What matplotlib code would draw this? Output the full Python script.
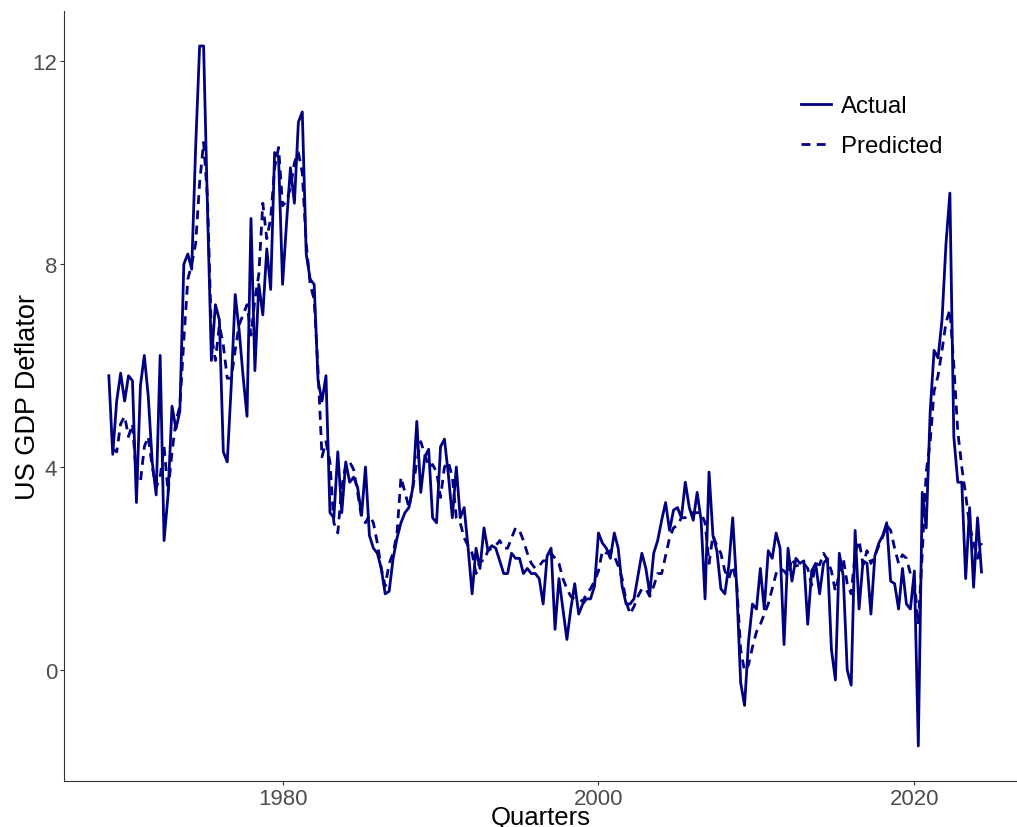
import numpy as np
import pandas as pd
import matplotlib
matplotlib.use('Agg')
import matplotlib.pyplot as plt
import matplotlib.dates as mdates

plt.rcParams['font.family'] = ['Liberation Sans', 'DejaVu Sans']

# quarterly GDP deflator, 1969Q1 .. 2024Q2
actual = [
    5.8, 4.25, 5.3, 5.85, 5.3, 5.8, 5.7, 3.3, 5.6, 6.2,
    5.4, 4.1, 3.45, 6.2, 2.55, 3.45, 5.2, 4.75, 5.1, 8.0,
    8.2, 7.9, 10.3, 12.3, 12.3, 9.1, 6.1, 7.2, 6.9, 4.3,
    4.1, 5.6, 7.4, 6.7, 5.8, 5.0, 8.9, 5.9, 7.6, 7.0,
    8.3, 7.5, 10.2, 10.1, 7.6, 8.8, 9.9, 9.2, 10.8, 11.0,
    8.2, 7.7, 7.6, 5.7, 5.3, 5.8, 3.1, 3.0, 4.3, 3.1,
    4.1, 3.7, 3.8, 3.6, 3.05, 4.0, 2.65, 2.4, 2.3, 2.0,
    1.5, 1.55, 2.2, 2.6, 2.9, 3.1, 3.2, 3.6, 4.9, 3.5,
    4.2, 4.35, 3.0, 2.9, 4.4, 4.55, 3.85, 3.0, 4.0, 3.0,
    3.2, 2.4, 1.5, 2.4, 2.0, 2.8, 2.35, 2.45, 2.4, 2.15,
    1.9, 1.9, 2.3, 2.2, 2.2, 1.9, 2.0, 1.9, 1.9, 1.8,
    1.3, 2.25, 2.4, 0.8, 1.8, 1.2, 0.6, 1.2, 1.7, 1.1,
    1.3, 1.4, 1.4, 1.65, 2.7, 2.5, 2.4, 2.2, 2.7, 2.4,
    1.65, 1.3, 1.3, 1.4, 1.85, 2.3, 2.0, 1.5, 2.3, 2.55,
    2.95, 3.3, 2.75, 3.15, 3.2, 3.0, 3.7, 3.2, 2.95, 3.5,
    2.95, 1.4, 3.9, 2.65, 2.35, 1.6, 1.5, 2.05, 3.0, 1.65,
    -0.25, -0.7, 0.55, 1.3, 1.2, 2.0, 1.2, 2.35, 2.2, 2.7,
    2.4, 0.5, 2.4, 1.75, 2.2, 2.1, 2.15, 0.9, 1.95, 2.1,
    1.5, 2.1, 2.2, 0.4, -0.2, 2.3, 1.85, 0.0, -0.3, 2.75,
    1.2, 2.15, 2.1, 1.1, 2.25, 2.5, 2.65, 2.9, 1.75, 1.7,
    1.2, 2.0, 1.3, 1.2, 1.95, -1.5, 3.5, 2.8, 5.1, 6.3,
    6.15, 6.9, 8.4, 9.4, 4.6, 3.7, 3.7, 1.8, 3.2, 1.63,
    3.0, 1.93,
]

predicted = [
    np.nan, 4.35, 4.3, 4.85, 5.0, 4.6, 4.85, 3.8, 3.7, 4.4,
    4.6, 4.0, 3.6, 3.8, 4.4, 3.5, 4.3, 4.9, 5.2, 6.5,
    7.7, 8.0, 8.4, 9.6, 10.4, 9.3, 6.6, 6.1, 6.8, 6.4,
    5.75, 5.75, 6.3, 6.8, 7.0, 7.2, 6.6, 7.3, 7.8, 9.2,
    8.5, 8.9, 9.9, 10.3, 9.15, 9.25, 9.5, 10.0, 10.2, 9.8,
    8.4, 7.6, 7.3, 5.9, 4.2, 4.5, 4.1, 2.9, 2.7, 3.6,
    4.05, 4.1, 3.95, 3.5, 3.0, 2.9, 3.05, 2.9, 2.5, 2.0,
    1.65, 2.1, 2.3, 2.7, 3.8, 3.5, 3.2, 3.6, 4.1, 4.5,
    4.25, 4.0, 4.05, 3.9, 3.4, 4.0, 4.1, 3.8, 3.0, 2.9,
    2.6, 2.45, 2.3, 1.9, 2.15, 2.15, 2.35, 2.4, 2.45, 2.55,
    2.4, 2.4, 2.6, 2.8, 2.75, 2.55, 2.3, 2.1, 2.0, 2.05,
    2.15, 2.15, 2.3, 2.2, 2.1, 1.8, 1.6, 1.45, 1.4, 1.4,
    1.35, 1.5, 1.6, 1.75, 1.95, 2.35, 2.3, 2.35, 2.25, 2.05,
    1.8, 1.35, 1.1, 1.25, 1.45, 1.6, 1.6, 1.45, 1.65, 1.9,
    1.9, 2.25, 2.6, 2.8, 2.85, 3.0, 3.0, 3.1, 3.1, 3.1,
    3.1, 2.9, 2.1, 2.65, 2.45, 2.3, 1.95, 1.8, 2.05, 1.7,
    0.4, -0.02, 0.1, 0.45, 0.75, 0.9, 1.1, 1.3, 1.6, 1.9,
    2.0, 1.95, 1.85, 2.2, 2.05, 2.07, 2.1, 2.0, 1.67, 2.1,
    2.07, 2.3, 2.17, 1.95, 1.55, 1.9, 2.2, 1.7, 1.5, 2.3,
    2.55, 2.07, 2.35, 2.1, 2.25, 2.45, 2.63, 2.85, 2.75, 2.4,
    2.1, 2.27, 2.2, 1.9, 1.75, 0.9, 2.3, 3.9, 4.5, 5.5,
    5.8, 6.3, 6.85, 7.1, 6.0, 4.7, 4.0, 3.45, 2.85, 2.5,
    2.2, 2.5,
]

quarters = pd.date_range('1969-01-01', periods=len(actual), freq='QS')

navy = '#000080'

fig = plt.figure(figsize=(10.17, 8.28), dpi=100)
ax = fig.add_axes([64 / 1017, 46 / 828, 953 / 1017, 770 / 828])

ax.plot(quarters, actual, color=navy, lw=2.0, label='Actual')
ax.plot(quarters, predicted, color=navy, lw=2.0, ls=(0, (3.2, 2.3)), label='Predicted')

ax.set_xlim(pd.Timestamp('1966-03-01'), pd.Timestamp('2026-07-01'))
ax.set_ylim(-2.19, 12.99)
ax.set_yticks([0, 4, 8, 12])
ax.xaxis.set_major_locator(mdates.YearLocator(20))
ax.xaxis.set_major_formatter(mdates.DateFormatter('%Y'))

for s in ['top', 'right']:
    ax.spines[s].set_visible(False)
for s in ['left', 'bottom']:
    ax.spines[s].set_color('#333333')
    ax.spines[s].set_linewidth(0.8)
ax.tick_params(axis='both', colors='#333333', length=2.75, width=0.8,
               labelsize=16, labelcolor='#4D4D4D', pad=2.2)

ax.set_xlabel('Quarters', fontsize=18.5)
ax.set_ylabel('US GDP Deflator', fontsize=19.5)
ax.xaxis.set_label_coords(0.5, -0.031)
ax.yaxis.set_label_coords(-0.024, 0.5)

leg = ax.legend(loc='upper left', bbox_to_anchor=(0.751, 0.919), frameon=False,
                fontsize=17.3, handlelength=1.25, handletextpad=0.4, labelspacing=0.75)

fig.savefig('out.png', dpi=100)
